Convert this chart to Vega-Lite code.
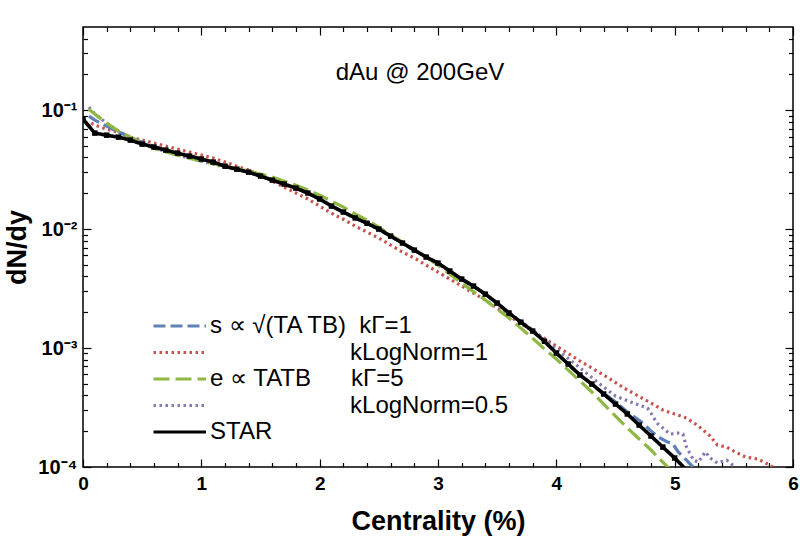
{
  "$schema": "https://vega.github.io/schema/vega-lite/v6.json",
  "width": 710,
  "height": 440,
  "autosize": "none",
  "padding": {"left": 83, "top": 27, "right": 7, "bottom": 69},
  "title": {
    "text": "dAu @ 200GeV",
    "font": "Liberation Sans",
    "fontSize": 24,
    "fontWeight": "normal",
    "color": "black",
    "anchor": "middle",
    "frame": "group",
    "baseline": "alphabetic",
    "offset": -78,
    "dx": -18
  },
  "datasets": {
    "curves": [
      {"model": "s2", "x": 0.07, "y": 0.0778}, {"model": "s2", "x": 0.1, "y": 0.0748}, {"model": "s2", "x": 0.2, "y": 0.0692},
      {"model": "s2", "x": 0.3, "y": 0.0653}, {"model": "s2", "x": 0.4, "y": 0.0593}, {"model": "s2", "x": 0.5, "y": 0.056},
      {"model": "s2", "x": 0.6, "y": 0.0528}, {"model": "s2", "x": 0.7, "y": 0.0498}, {"model": "s2", "x": 0.8, "y": 0.047},
      {"model": "s2", "x": 0.9, "y": 0.0444}, {"model": "s2", "x": 1.0, "y": 0.0419}, {"model": "s2", "x": 1.1, "y": 0.0395},
      {"model": "s2", "x": 1.2, "y": 0.0366}, {"model": "s2", "x": 1.3, "y": 0.0338}, {"model": "s2", "x": 1.4, "y": 0.0313},
      {"model": "s2", "x": 1.5, "y": 0.0284}, {"model": "s2", "x": 1.6, "y": 0.0253}, {"model": "s2", "x": 1.7, "y": 0.0225},
      {"model": "s2", "x": 1.8, "y": 0.0201}, {"model": "s2", "x": 1.9, "y": 0.0179}, {"model": "s2", "x": 2.0, "y": 0.0156},
      {"model": "s2", "x": 2.1, "y": 0.0136}, {"model": "s2", "x": 2.2, "y": 0.0121}, {"model": "s2", "x": 2.3, "y": 0.0106},
      {"model": "s2", "x": 2.4, "y": 0.00944}, {"model": "s2", "x": 2.5, "y": 0.0084}, {"model": "s2", "x": 2.6, "y": 0.00734},
      {"model": "s2", "x": 2.7, "y": 0.00641}, {"model": "s2", "x": 2.8, "y": 0.00571}, {"model": "s2", "x": 2.9, "y": 0.00498},
      {"model": "s2", "x": 3.0, "y": 0.00435}, {"model": "s2", "x": 3.2, "y": 0.00332}, {"model": "s2", "x": 3.4, "y": 0.00253},
      {"model": "s2", "x": 3.6, "y": 0.00186}, {"model": "s2", "x": 3.8, "y": 0.00139}, {"model": "s2", "x": 4.0, "y": 0.00104},
      {"model": "s2", "x": 4.2, "y": 0.000778}, {"model": "s2", "x": 4.4, "y": 0.000593}, {"model": "s2", "x": 4.6, "y": 0.000444},
      {"model": "s2", "x": 4.8, "y": 0.000345}, {"model": "s2", "x": 4.9, "y": 0.000301}, {"model": "s2", "x": 5.0, "y": 0.000279},
      {"model": "s2", "x": 5.1, "y": 0.000258}, {"model": "s2", "x": 5.2, "y": 0.000221}, {"model": "s2", "x": 5.3, "y": 0.000182},
      {"model": "s2", "x": 5.36, "y": 0.000153}, {"model": "s2", "x": 5.44, "y": 0.000147}, {"model": "s2", "x": 5.5, "y": 0.000136},
      {"model": "s2", "x": 5.6, "y": 0.000121}, {"model": "s2", "x": 5.7, "y": 0.000117}, {"model": "s2", "x": 5.8, "y": 0.000104},
      {"model": "s2", "x": 5.86, "y": 0.0000962},

      {"model": "e2", "x": 0.05, "y": 0.106}, {"model": "e2", "x": 0.1, "y": 0.0926}, {"model": "e2", "x": 0.2, "y": 0.0778},
      {"model": "e2", "x": 0.3, "y": 0.0666}, {"model": "e2", "x": 0.4, "y": 0.0593}, {"model": "e2", "x": 0.5, "y": 0.0528},
      {"model": "e2", "x": 0.6, "y": 0.0479}, {"model": "e2", "x": 0.7, "y": 0.0452}, {"model": "e2", "x": 0.8, "y": 0.0419},
      {"model": "e2", "x": 0.9, "y": 0.0395}, {"model": "e2", "x": 1.0, "y": 0.0373}, {"model": "e2", "x": 1.2, "y": 0.0332},
      {"model": "e2", "x": 1.4, "y": 0.0301}, {"model": "e2", "x": 1.6, "y": 0.0258}, {"model": "e2", "x": 1.8, "y": 0.0221},
      {"model": "e2", "x": 2.0, "y": 0.0179}, {"model": "e2", "x": 2.2, "y": 0.0139}, {"model": "e2", "x": 2.4, "y": 0.0112},
      {"model": "e2", "x": 2.6, "y": 0.00873}, {"model": "e2", "x": 2.8, "y": 0.00666}, {"model": "e2", "x": 3.0, "y": 0.00518},
      {"model": "e2", "x": 3.2, "y": 0.0038}, {"model": "e2", "x": 3.4, "y": 0.00284}, {"model": "e2", "x": 3.6, "y": 0.00197},
      {"model": "e2", "x": 3.8, "y": 0.00142}, {"model": "e2", "x": 4.0, "y": 0.000981}, {"model": "e2", "x": 4.2, "y": 0.000679},
      {"model": "e2", "x": 4.4, "y": 0.00047}, {"model": "e2", "x": 4.5, "y": 0.000395}, {"model": "e2", "x": 4.65, "y": 0.000345},
      {"model": "e2", "x": 4.77, "y": 0.000313}, {"model": "e2", "x": 4.81, "y": 0.000274}, {"model": "e2", "x": 4.85, "y": 0.000234},
      {"model": "e2", "x": 4.92, "y": 0.000205}, {"model": "e2", "x": 4.96, "y": 0.000189}, {"model": "e2", "x": 5.03, "y": 0.000193},
      {"model": "e2", "x": 5.07, "y": 0.000189}, {"model": "e2", "x": 5.1, "y": 0.000147}, {"model": "e2", "x": 5.16, "y": 0.000114},
      {"model": "e2", "x": 5.2, "y": 0.00011}, {"model": "e2", "x": 5.26, "y": 0.000134}, {"model": "e2", "x": 5.3, "y": 0.000119},
      {"model": "e2", "x": 5.36, "y": 0.000108}, {"model": "e2", "x": 5.44, "y": 0.000114}, {"model": "e2", "x": 5.5, "y": 0.000102},
      {"model": "e2", "x": 5.53, "y": 0.0000944},

      {"model": "s1", "x": 0.05, "y": 0.0891}, {"model": "s1", "x": 0.1, "y": 0.0824}, {"model": "s1", "x": 0.2, "y": 0.0734},
      {"model": "s1", "x": 0.3, "y": 0.0653}, {"model": "s1", "x": 0.4, "y": 0.0593}, {"model": "s1", "x": 0.5, "y": 0.0538},
      {"model": "s1", "x": 0.6, "y": 0.0498}, {"model": "s1", "x": 0.7, "y": 0.0461}, {"model": "s1", "x": 0.8, "y": 0.0435},
      {"model": "s1", "x": 0.9, "y": 0.0411}, {"model": "s1", "x": 1.0, "y": 0.0388}, {"model": "s1", "x": 1.2, "y": 0.0338},
      {"model": "s1", "x": 1.4, "y": 0.0301}, {"model": "s1", "x": 1.6, "y": 0.0258}, {"model": "s1", "x": 1.8, "y": 0.0221},
      {"model": "s1", "x": 2.0, "y": 0.0179}, {"model": "s1", "x": 2.2, "y": 0.0139}, {"model": "s1", "x": 2.4, "y": 0.0112},
      {"model": "s1", "x": 2.6, "y": 0.00873}, {"model": "s1", "x": 2.8, "y": 0.00666}, {"model": "s1", "x": 3.0, "y": 0.00518},
      {"model": "s1", "x": 3.2, "y": 0.0038}, {"model": "s1", "x": 3.4, "y": 0.00284}, {"model": "s1", "x": 3.6, "y": 0.00197},
      {"model": "s1", "x": 3.8, "y": 0.00139}, {"model": "s1", "x": 4.0, "y": 0.000908}, {"model": "s1", "x": 4.2, "y": 0.000593},
      {"model": "s1", "x": 4.4, "y": 0.000419}, {"model": "s1", "x": 4.5, "y": 0.000352}, {"model": "s1", "x": 4.6, "y": 0.00029},
      {"model": "s1", "x": 4.72, "y": 0.000239}, {"model": "s1", "x": 4.79, "y": 0.000205}, {"model": "s1", "x": 4.86, "y": 0.000179},
      {"model": "s1", "x": 4.94, "y": 0.000162}, {"model": "s1", "x": 4.98, "y": 0.000159}, {"model": "s1", "x": 5.03, "y": 0.000134},
      {"model": "s1", "x": 5.1, "y": 0.000114}, {"model": "s1", "x": 5.17, "y": 0.0000962},

      {"model": "e1", "x": 0.05, "y": 0.1019}, {"model": "e1", "x": 0.1, "y": 0.0926}, {"model": "e1", "x": 0.2, "y": 0.0778},
      {"model": "e1", "x": 0.3, "y": 0.0666}, {"model": "e1", "x": 0.4, "y": 0.0593}, {"model": "e1", "x": 0.5, "y": 0.0528},
      {"model": "e1", "x": 0.6, "y": 0.0479}, {"model": "e1", "x": 0.7, "y": 0.0444}, {"model": "e1", "x": 0.8, "y": 0.0419},
      {"model": "e1", "x": 0.9, "y": 0.0395}, {"model": "e1", "x": 1.0, "y": 0.0373}, {"model": "e1", "x": 1.2, "y": 0.0338},
      {"model": "e1", "x": 1.4, "y": 0.0307}, {"model": "e1", "x": 1.5, "y": 0.029}, {"model": "e1", "x": 1.6, "y": 0.0274},
      {"model": "e1", "x": 1.7, "y": 0.0253}, {"model": "e1", "x": 1.8, "y": 0.0234}, {"model": "e1", "x": 1.9, "y": 0.0213},
      {"model": "e1", "x": 2.0, "y": 0.0193}, {"model": "e1", "x": 2.1, "y": 0.0172}, {"model": "e1", "x": 2.2, "y": 0.0153},
      {"model": "e1", "x": 2.3, "y": 0.0134}, {"model": "e1", "x": 2.4, "y": 0.0119}, {"model": "e1", "x": 2.5, "y": 0.0104},
      {"model": "e1", "x": 2.6, "y": 0.00891}, {"model": "e1", "x": 2.7, "y": 0.00778}, {"model": "e1", "x": 2.8, "y": 0.00666},
      {"model": "e1", "x": 2.9, "y": 0.00582}, {"model": "e1", "x": 3.0, "y": 0.00498}, {"model": "e1", "x": 3.2, "y": 0.00352},
      {"model": "e1", "x": 3.4, "y": 0.00253}, {"model": "e1", "x": 3.5, "y": 0.00213}, {"model": "e1", "x": 3.6, "y": 0.00179},
      {"model": "e1", "x": 3.7, "y": 0.00147}, {"model": "e1", "x": 3.8, "y": 0.00121}, {"model": "e1", "x": 3.9, "y": 0.000981},
      {"model": "e1", "x": 4.0, "y": 0.000808}, {"model": "e1", "x": 4.1, "y": 0.000653}, {"model": "e1", "x": 4.2, "y": 0.000528},
      {"model": "e1", "x": 4.3, "y": 0.000427}, {"model": "e1", "x": 4.4, "y": 0.000338}, {"model": "e1", "x": 4.5, "y": 0.000268},
      {"model": "e1", "x": 4.6, "y": 0.000213}, {"model": "e1", "x": 4.7, "y": 0.000172}, {"model": "e1", "x": 4.8, "y": 0.000139},
      {"model": "e1", "x": 4.9, "y": 0.00011}, {"model": "e1", "x": 5.0, "y": 0.0000873},

      {"model": "STAR", "x": 0.0, "y": 0.084}, {"model": "STAR", "x": 0.1, "y": 0.0641}, {"model": "STAR", "x": 0.2, "y": 0.0616},
      {"model": "STAR", "x": 0.3, "y": 0.0593}, {"model": "STAR", "x": 0.4, "y": 0.056}, {"model": "STAR", "x": 0.5, "y": 0.0518},
      {"model": "STAR", "x": 0.6, "y": 0.0489}, {"model": "STAR", "x": 0.7, "y": 0.0461}, {"model": "STAR", "x": 0.8, "y": 0.0435},
      {"model": "STAR", "x": 0.9, "y": 0.0411}, {"model": "STAR", "x": 1.0, "y": 0.0388}, {"model": "STAR", "x": 1.1, "y": 0.0366},
      {"model": "STAR", "x": 1.2, "y": 0.0338}, {"model": "STAR", "x": 1.3, "y": 0.0319}, {"model": "STAR", "x": 1.4, "y": 0.0301},
      {"model": "STAR", "x": 1.5, "y": 0.0279}, {"model": "STAR", "x": 1.6, "y": 0.0258}, {"model": "STAR", "x": 1.7, "y": 0.0239},
      {"model": "STAR", "x": 1.8, "y": 0.0221}, {"model": "STAR", "x": 1.9, "y": 0.0201}, {"model": "STAR", "x": 2.0, "y": 0.0179},
      {"model": "STAR", "x": 2.1, "y": 0.0156}, {"model": "STAR", "x": 2.2, "y": 0.0139}, {"model": "STAR", "x": 2.3, "y": 0.0124},
      {"model": "STAR", "x": 2.4, "y": 0.0112}, {"model": "STAR", "x": 2.5, "y": 0.01}, {"model": "STAR", "x": 2.6, "y": 0.00873},
      {"model": "STAR", "x": 2.7, "y": 0.00763}, {"model": "STAR", "x": 2.8, "y": 0.00666}, {"model": "STAR", "x": 2.9, "y": 0.00582},
      {"model": "STAR", "x": 3.0, "y": 0.00518}, {"model": "STAR", "x": 3.1, "y": 0.00444}, {"model": "STAR", "x": 3.2, "y": 0.0038},
      {"model": "STAR", "x": 3.3, "y": 0.00332}, {"model": "STAR", "x": 3.4, "y": 0.00284}, {"model": "STAR", "x": 3.5, "y": 0.00239},
      {"model": "STAR", "x": 3.6, "y": 0.00197}, {"model": "STAR", "x": 3.7, "y": 0.00165}, {"model": "STAR", "x": 3.8, "y": 0.00139},
      {"model": "STAR", "x": 3.9, "y": 0.00114}, {"model": "STAR", "x": 4.0, "y": 0.000908}, {"model": "STAR", "x": 4.1, "y": 0.000734},
      {"model": "STAR", "x": 4.2, "y": 0.000593}, {"model": "STAR", "x": 4.3, "y": 0.000498}, {"model": "STAR", "x": 4.4, "y": 0.000411},
      {"model": "STAR", "x": 4.5, "y": 0.000338}, {"model": "STAR", "x": 4.6, "y": 0.000279}, {"model": "STAR", "x": 4.7, "y": 0.000225},
      {"model": "STAR", "x": 4.8, "y": 0.000182}, {"model": "STAR", "x": 4.9, "y": 0.000147}, {"model": "STAR", "x": 5.0, "y": 0.000119},
      {"model": "STAR", "x": 5.1, "y": 0.0000944}
    ]
  },
  "data": {"name": "curves"},
  "layer": [
    {
      "transform": [{"filter": "datum.model !== 'STAR'"}],
      "mark": {"type": "line", "strokeWidth": 3.2, "clip": true},
      "encoding": {
        "x": {
          "field": "x", "type": "quantitative",
          "scale": {"domain": [0, 6], "nice": false, "zero": false},
          "axis": {
            "orient": "bottom",
            "values": [0, 0.2, 0.4, 0.6, 0.8, 1, 1.2, 1.4, 1.6, 1.8, 2, 2.2, 2.4, 2.6, 2.8, 3, 3.2, 3.4, 3.6, 3.8, 4, 4.2, 4.4, 4.6, 4.8, 5, 5.2, 5.4, 5.6, 5.8, 6],
            "labelExpr": "abs(datum.value - round(datum.value)) < 0.01 ? format(datum.value, 'd') : ''",
            "tickSize": {"condition": {"test": "abs(datum.value - round(datum.value)) < 0.01", "value": -8}, "value": -4.5},
            "labelPadding": 15,
            "labelFontSize": 19,
            "labelFontWeight": "bold",
            "labelFlush": false,
            "labelOverlap": false,
            "title": "Centrality (%)",
            "titleFontSize": 27,
            "titleFontWeight": "bold",
            "titlePadding": 12
          }
        },
        "y": {
          "field": "y", "type": "quantitative",
          "scale": {"type": "log", "domain": [0.0001, 0.5], "nice": false},
          "axis": {
            "orient": "left",
            "values": [0.0001, 0.0002, 0.0003, 0.0004, 0.0005, 0.0006, 0.0007, 0.0008, 0.0009, 0.001, 0.002, 0.003, 0.004, 0.005, 0.006, 0.007, 0.008, 0.009, 0.01, 0.02, 0.03, 0.04, 0.05, 0.06, 0.07, 0.08, 0.09, 0.1, 0.2, 0.3, 0.4],
            "labelExpr": "abs(datum.value - 0.1) < 1e-9 ? '10⁻¹' : abs(datum.value - 0.01) < 1e-10 ? '10⁻²' : abs(datum.value - 0.001) < 1e-11 ? '10⁻³' : abs(datum.value - 0.0001) < 1e-12 ? '10⁻⁴' : ''",
            "tickSize": {"condition": {"test": "abs(log(datum.value) / LN10 - round(log(datum.value) / LN10)) < 0.001", "value": -8}, "value": -4.5},
            "labelPadding": 14,
            "labelFontSize": 20,
            "labelFontWeight": "bold",
            "labelOverlap": false,
            "labelFlush": false,
            "title": "dN/dy",
            "titleFontSize": 27,
            "titleFontWeight": "bold",
            "titlePadding": 6
          }
        },
        "color": {
          "field": "model", "type": "nominal",
          "scale": {"domain": ["s1", "s2", "e1", "e2", "STAR"], "range": ["#5E81B5", "#C8524E", "#8FB843", "#8878B3", "#000000"]},
          "legend": {
            "title": null,
            "labelExpr": "{'s1': 's ∝ √(TA TB)\u00a0\u00a0kΓ=1', 's2': '\u200b\u00a0\u00a0\u00a0\u00a0\u00a0\u00a0\u00a0\u00a0\u00a0\u00a0\u00a0\u00a0\u00a0\u00a0\u00a0\u00a0\u00a0\u00a0\u00a0\u00a0\u00a0kLogNorm=1', 'e1': 'e ∝ TATB\u00a0\u00a0\u00a0\u00a0\u00a0\u00a0kΓ=5', 'e2': '\u200b\u00a0\u00a0\u00a0\u00a0\u00a0\u00a0\u00a0\u00a0\u00a0\u00a0\u00a0\u00a0\u00a0\u00a0\u00a0\u00a0\u00a0\u00a0\u00a0\u00a0\u00a0kLogNorm=0.5', 'STAR': 'STAR'}[datum.label]"
          }
        },
        "strokeDash": {
          "field": "model", "type": "nominal",
          "scale": {"domain": ["s1", "s2", "e1", "e2", "STAR"], "range": [[12, 5], [2.5, 3.5], [16, 6], [2.5, 3.5], [1, 0]]},
          "legend": {
            "title": null,
            "labelExpr": "{'s1': 's ∝ √(TA TB)\u00a0\u00a0kΓ=1', 's2': '\u200b\u00a0\u00a0\u00a0\u00a0\u00a0\u00a0\u00a0\u00a0\u00a0\u00a0\u00a0\u00a0\u00a0\u00a0\u00a0\u00a0\u00a0\u00a0\u00a0\u00a0\u00a0kLogNorm=1', 'e1': 'e ∝ TATB\u00a0\u00a0\u00a0\u00a0\u00a0\u00a0kΓ=5', 'e2': '\u200b\u00a0\u00a0\u00a0\u00a0\u00a0\u00a0\u00a0\u00a0\u00a0\u00a0\u00a0\u00a0\u00a0\u00a0\u00a0\u00a0\u00a0\u00a0\u00a0\u00a0\u00a0kLogNorm=0.5', 'STAR': 'STAR'}[datum.label]"
          }
        }
      }
    },
    {
      "transform": [{"filter": "datum.model === 'STAR'"}],
      "mark": {"type": "line", "strokeWidth": 3.6, "clip": true, "point": {"filled": true, "shape": "square", "size": 30, "color": "black", "clip": true}},
      "encoding": {
        "x": {
          "field": "x", "type": "quantitative",
          "axis": {
            "orient": "top",
            "values": [0, 0.2, 0.4, 0.6, 0.8, 1, 1.2, 1.4, 1.6, 1.8, 2, 2.2, 2.4, 2.6, 2.8, 3, 3.2, 3.4, 3.6, 3.8, 4, 4.2, 4.4, 4.6, 4.8, 5, 5.2, 5.4, 5.6, 5.8, 6],
            "labels": false,
            "title": null,
            "tickSize": {"condition": {"test": "abs(datum.value - round(datum.value)) < 0.01", "value": -8}, "value": -4.5}
          }
        },
        "y": {
          "field": "y", "type": "quantitative",
          "axis": {
            "orient": "right",
            "values": [0.0001, 0.0002, 0.0003, 0.0004, 0.0005, 0.0006, 0.0007, 0.0008, 0.0009, 0.001, 0.002, 0.003, 0.004, 0.005, 0.006, 0.007, 0.008, 0.009, 0.01, 0.02, 0.03, 0.04, 0.05, 0.06, 0.07, 0.08, 0.09, 0.1, 0.2, 0.3, 0.4],
            "labels": false,
            "title": null,
            "tickSize": {"condition": {"test": "abs(log(datum.value) / LN10 - round(log(datum.value) / LN10)) < 0.001", "value": -8}, "value": -4.5}
          }
        },
        "color": {"field": "model", "type": "nominal"},
        "strokeDash": {"field": "model", "type": "nominal"}
      }
    }
  ],
  "resolve": {"axis": {"x": "independent", "y": "independent"}},
  "config": {
    "view": {"stroke": "black", "strokeWidth": 1.5},
    "font": "Liberation Sans",
    "axis": {
      "domain": false,
      "grid": false,
      "tickColor": "black",
      "tickWidth": 1.2,
      "labelColor": "black",
      "titleColor": "black",
      "labelFont": "Liberation Sans",
      "titleFont": "Liberation Sans"
    },
    "legend": {
      "orient": "none",
      "legendX": 69,
      "legendY": 287,
      "padding": 0,
      "symbolType": "M-1,0H4",
      "symbolSize": 441,
      "symbolStrokeWidth": 3,
      "labelOffset": 34,
      "labelFont": "Liberation Sans",
      "labelFontSize": 24,
      "labelColor": "black",
      "labelLimit": 600,
      "rowPadding": 2.5
    }
  }
}
